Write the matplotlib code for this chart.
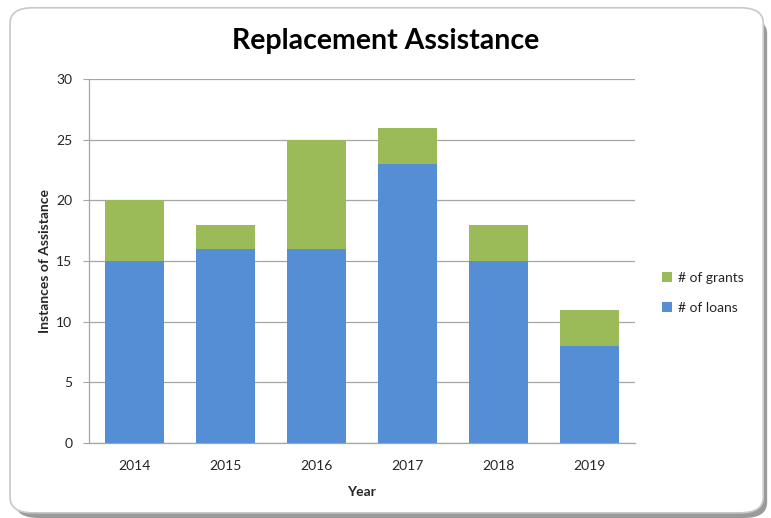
import matplotlib
matplotlib.use("Agg")
import matplotlib.pyplot as plt
from matplotlib.patches import FancyBboxPatch, Patch
import numpy as np

years = ["2014", "2015", "2016", "2017", "2018", "2019"]
loans = [15, 16, 16, 23, 15, 8]
grants = [5, 2, 9, 3, 3, 3]

BLUE = "#558ED5"
GREEN = "#9BBB59"
plt.rcParams['font.family'] = ['Lato', 'DejaVu Sans']

fig = plt.figure(figsize=(7.71, 5.18), dpi=100)
fig.patch.set_facecolor("white")

# frame with shadow
shadow = FancyBboxPatch((0.02, 0.0), 0.975, 0.965, boxstyle="round,pad=0,rounding_size=0.03",
                        transform=fig.transFigure, facecolor="#9a9a9a", edgecolor="none", zorder=-2)
frame = FancyBboxPatch((0.013, 0.01), 0.977, 0.975, boxstyle="round,pad=0,rounding_size=0.03",
                       transform=fig.transFigure, facecolor="white", edgecolor="#c8c8c8", linewidth=1.2, zorder=-1)
fig.patches.extend([shadow, frame])

ax = fig.add_axes([0.1154, 0.1448, 0.708, 0.7027])
ax.set_zorder(1)
ax.set_facecolor("none")
x = np.arange(len(years))
w = 0.65
ax.bar(x, loans, w, color=BLUE, zorder=3, label="# of loans")
ax.bar(x, grants, w, bottom=loans, color=GREEN, zorder=3, label="# of grants")

ax.set_xlim(-0.5, len(years) - 0.5)
ax.set_ylim(0, 30)
ax.set_yticks(range(0, 31, 5))
ax.set_xticks(x)
ax.set_xticklabels(years)
ax.yaxis.grid(True, color="#a6a6a6", linewidth=0.9, zorder=0)
ax.set_axisbelow(True)
for s in ["top", "right"]:
    ax.spines[s].set_visible(False)
for s in ["left", "bottom"]:
    ax.spines[s].set_color("#a6a6a6")
    ax.spines[s].set_linewidth(0.9)
ax.tick_params(axis="y", length=4, color="#a6a6a6", labelsize=10, labelcolor="#262626", pad=8)
ax.tick_params(axis="x", length=0, labelsize=10, labelcolor="#262626", pad=12)

ax.set_xlabel("Year", fontsize=10, fontweight="bold", color="#262626", labelpad=10)
ax.set_ylabel("Instances of Assistance", fontsize=10, fontweight="bold", color="#262626", labelpad=4)
fig.text(0.5, 0.92, "Replacement Assistance", ha="center", va="center",
         fontsize=20.5, fontweight="bold", color="#000000")

handles = [Patch(facecolor=GREEN, label="# of grants"), Patch(facecolor=BLUE, label="# of loans")]
fig.legend(handles=handles, loc="center left", bbox_to_anchor=(0.843, 0.434), frameon=False,
           fontsize=10, handlelength=0.7, handleheight=0.7, handletextpad=0.4, labelspacing=1.3,
           labelcolor="#262626")

fig.savefig("out.png", dpi=100)
